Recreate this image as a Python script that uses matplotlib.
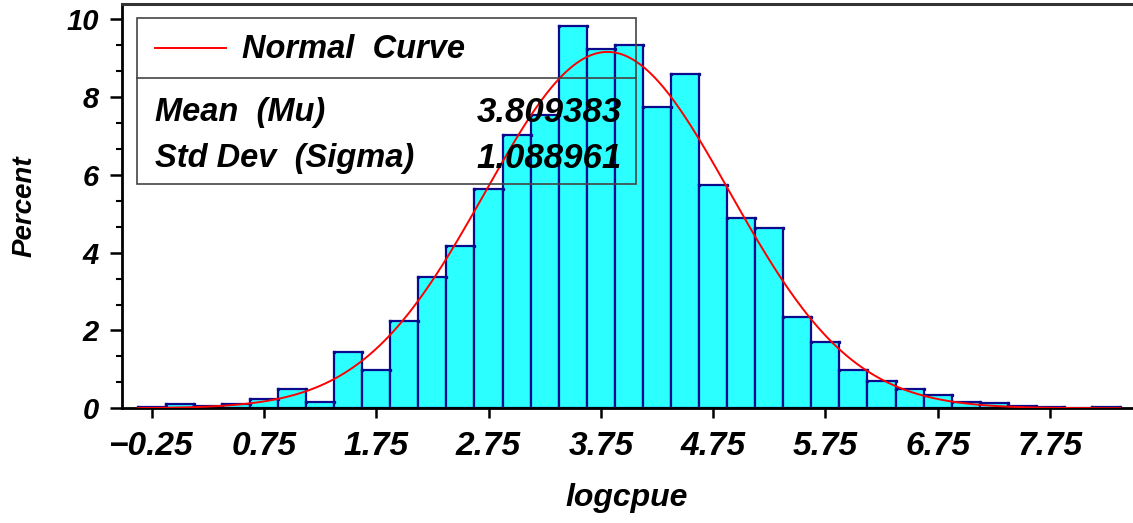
import numpy as np
import matplotlib
matplotlib.use("Agg")
import matplotlib.pyplot as plt
from matplotlib.lines import Line2D
from matplotlib.patches import Rectangle

# Histogram of logcpue: bin midpoints (width 0.25) and percent of observations
bin_mids = [-0.25, 0.0, 0.25, 0.5, 0.75, 1.0, 1.25, 1.5, 1.75, 2.0, 2.25, 2.5,
            2.75, 3.0, 3.25, 3.5, 3.75, 4.0, 4.25, 4.5, 4.75, 5.0, 5.25, 5.5,
            5.75, 6.0, 6.25, 6.5, 6.75, 7.0, 7.25, 7.5, 7.75, 8.0, 8.25]
percent = [0.03, 0.10, 0.06, 0.10, 0.24, 0.49, 0.17, 1.45, 0.99, 2.25, 3.38, 4.17,
           5.63, 7.03, 7.54, 9.82, 9.24, 9.34, 7.74, 8.60, 5.74, 4.88, 4.63, 2.34,
           1.71, 0.98, 0.69, 0.50, 0.35, 0.15, 0.13, 0.07, 0.03, 0.0, 0.03]
bin_width = 0.25

# Fitted normal parameters
mu = 3.809383
sigma = 1.088961

x_ticks = [-0.25, 0.75, 1.75, 2.75, 3.75, 4.75, 5.75, 6.75, 7.75]
x_tick_labels = ["\u22120.25", "0.75", "1.75", "2.75", "3.75", "4.75",
                 "5.75", "6.75", "7.75"]
y_ticks = [0, 2, 4, 6, 8, 10]

W, H = 1133, 523
FONT = dict(family="Liberation Sans", weight="bold", style="italic")

fig = plt.figure(figsize=(W / 100, H / 100), dpi=100)
fig.patch.set_facecolor("white")


def fx(px):
    return px / W


def fy(py):
    return 1 - py / H


ax = fig.add_axes([fx(122), fy(408.3), fx(W) - fx(122), fy(4) - fy(408.3)])
ax.set_xlim(-0.5145, 8.490)
ax.set_ylim(0, 10.39)

# bars
ax.bar(bin_mids, percent, width=bin_width, align="center",
       color="#2BFFFF", edgecolor="#0A0A8C", linewidth=1.6, zorder=2)

# small corner dots on each bar top
mids = np.asarray(bin_mids)
pct = np.asarray(percent)
has_bar = pct > 0
corner_x = np.concatenate([mids[has_bar] - bin_width / 2, mids[has_bar] + bin_width / 2])
corner_y = np.concatenate([pct[has_bar], pct[has_bar]])
ax.plot(corner_x, corner_y, linestyle="none", marker="s", markersize=1.4,
        color="#0A0A8C", zorder=2.5)

# normal curve scaled to percent per bin
xs = np.linspace(bin_mids[0] - bin_width / 2, bin_mids[-1] + bin_width / 2, 400)
ys = 100 * bin_width * np.exp(-0.5 * ((xs - mu) / sigma) ** 2) / (sigma * np.sqrt(2 * np.pi))
ax.plot(xs, ys, color="#FF0000", linewidth=1.4, zorder=3)

# axes styling
ax.spines["right"].set_visible(False)
ax.spines["top"].set_color("#333333")
ax.spines["top"].set_linewidth(2.2)
ax.spines["left"].set_linewidth(2.0)
ax.spines["bottom"].set_linewidth(2.0)

ax.set_xticks(x_ticks)
ax.set_xticklabels(x_tick_labels)
ax.set_yticks(y_ticks)
ax.set_yticks([v for v in np.arange(0, 10.01, 2 / 3) if min(abs(v - t) for t in y_ticks) > 1e-6],
              minor=True)
ax.tick_params(axis="x", direction="out", length=7.5, width=1.8, pad=9,
               labelsize=24, top=False)
ax.tick_params(axis="y", which="major", direction="out", length=8.6, width=1.8, pad=8,
               labelsize=21, right=False)
ax.tick_params(axis="y", which="minor", direction="out", length=4.3, width=1.5, right=False)
for lab in ax.get_xticklabels() + ax.get_yticklabels():
    lab.set_fontfamily(FONT["family"])
    lab.set_fontweight(FONT["weight"])
    lab.set_fontstyle(FONT["style"])

fig.text(fx(25), fy(206), "Percent", rotation=90, ha="center", va="center",
         fontsize=20, **FONT)
fig.text(fx(627), fy(498), "logcpue", ha="center", va="center", fontsize=23, **FONT)

# inset legend box with fitted parameters
box = Rectangle((fx(137), fy(184)), fx(636) - fx(137), fy(18) - fy(184),
                transform=fig.transFigure, fill=False, edgecolor="#444444",
                linewidth=1.2, zorder=5)
fig.add_artist(box)
fig.add_artist(Line2D([fx(137), fx(636)], [fy(78), fy(78)], transform=fig.transFigure,
                      color="#444444", linewidth=1.2))
fig.add_artist(Line2D([fx(155), fx(226)], [fy(48), fy(48)], transform=fig.transFigure,
                      color="#FF0000", linewidth=1.4))
fig.text(fx(242), fy(50), "Normal  Curve", ha="left", va="center", fontsize=23.5, **FONT)
fig.text(fx(155), fy(112), "Mean  (Mu)", ha="left", va="center", fontsize=23.5, **FONT)
fig.text(fx(622), fy(112), f"{mu:.6f}", ha="right", va="center", fontsize=25, **FONT)
fig.text(fx(155), fy(158), "Std Dev  (Sigma)", ha="left", va="center", fontsize=23.5, **FONT)
fig.text(fx(622), fy(158), f"{sigma:.6f}", ha="right", va="center", fontsize=25, **FONT)

fig.savefig("out.png", dpi=100)
